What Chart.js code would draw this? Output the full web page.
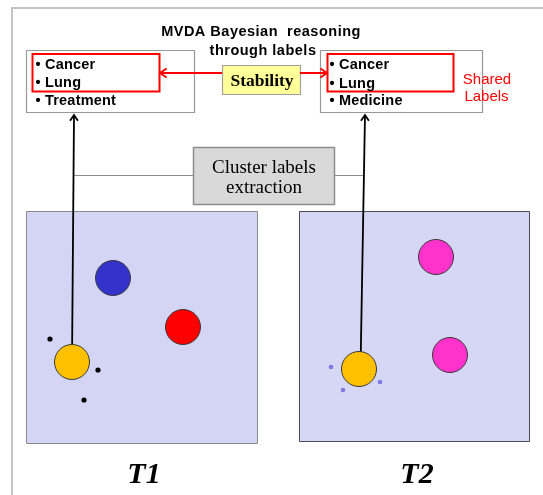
<!DOCTYPE html>
<html><head><meta charset="utf-8">
<script src="https://cdn.jsdelivr.net/npm/chart.js@4"></script>
<style>html,body{margin:0;padding:0;background:#fff;overflow:hidden}canvas{display:block}</style>
</head><body>
<canvas id="c" width="543" height="495"></canvas>
<script>
// ---- data ----
const titleLines = ['MVDA Bayesian  reasoning', 'through labels'];
const panelNames = ['T1', 'T2'];
const labelsT1 = ['Cancer', 'Lung', 'Treatment'];
const labelsT2 = ['Cancer', 'Lung', 'Medicine'];
const sharedLabelsText = ['Shared', 'Labels'];
const sharedCount = 2;
const stabilityText = 'Stability';
const extractionLines = ['Cluster labels', 'extraction'];
// cluster centres (diagram units)
const t1ClusterX = [113, 183, 72];
const t1ClusterY = [278, 327, 362];
const t2ClusterX = [436, 450, 359];
const t2ClusterY = [257, 355, 369];
// unassigned points
const t1NoiseX = [50, 98, 84];
const t1NoiseY = [339, 370, 400];
const t2NoiseX = [331, 343, 380];
const t2NoiseY = [367, 390, 382];

// ---- styles ----
const t1Colors = ['#3333cc', '#ff0000', '#ffc000'];
const t2Colors = ['#ff33cc', '#ff33cc', '#ffc000'];
const BIG_R = 17.5;

const toPts = (xs, ys, r) => xs.map((x, i) => ({x: x, y: ys[i], r: r}));

const diagram = {
  id: 'diagram',
  beforeDatasetsDraw(chart) {
    const ctx = chart.ctx;
    const X = v => chart.scales.x.getPixelForValue(v);
    const Y = v => chart.scales.y.getPixelForValue(v);
    ctx.save();
    function rect(x0, y0, x1, y1, fill, stroke, lw) {
      ctx.beginPath();
      ctx.rect(X(x0) + 0.5, Y(y0) + 0.5, X(x1) - X(x0), Y(y1) - Y(y0));
      if (fill) { ctx.fillStyle = fill; ctx.fill(); }
      if (stroke) { ctx.lineWidth = lw || 1; ctx.strokeStyle = stroke; ctx.stroke(); }
    }
    function line(x0, y0, x1, y1, color, lw) {
      ctx.beginPath();
      ctx.moveTo(X(x0), Y(y0)); ctx.lineTo(X(x1), Y(y1));
      ctx.strokeStyle = color; ctx.lineWidth = lw; ctx.stroke();
    }
    function head(tx, ty, fx, fy, size, color, lw) {
      const a = Math.atan2(Y(ty) - Y(fy), X(tx) - X(fx));
      const px = X(tx), py = Y(ty);
      ctx.beginPath();
      ctx.moveTo(px - size * Math.cos(a - 0.6), py - size * Math.sin(a - 0.6));
      ctx.lineTo(px, py);
      ctx.lineTo(px - size * Math.cos(a + 0.6), py - size * Math.sin(a + 0.6));
      ctx.strokeStyle = color; ctx.lineWidth = lw; ctx.lineJoin = 'miter'; ctx.stroke();
    }
    function text(t, x, y, font, color, align, spacing) {
      ctx.font = font; ctx.fillStyle = color; ctx.textAlign = align || 'center';
      ctx.textBaseline = 'alphabetic';
      ctx.letterSpacing = (spacing || 0) + 'px';
      ctx.fillText(t, X(x), Y(y));
      ctx.letterSpacing = '0px';
    }
    // outer frame
    ctx.beginPath();
    ctx.moveTo(X(12), Y(495)); ctx.lineTo(X(12), Y(8)); ctx.lineTo(X(543), Y(8));
    ctx.strokeStyle = '#c4c4c4'; ctx.lineWidth = 2; ctx.stroke();

    // panels
    rect(26, 211, 257, 443, '#d4d4f4', '#8a8a8a', 1);
    rect(299, 211, 529, 441, '#d6d6f5', '#4a4a5a', 1);

    // connector line
    line(73, 175.5, 363, 175.5, '#8c8c8c', 1.2);
    // extraction box
    rect(193, 147, 334, 204, '#d9d9d9', '#8c8c8c', 1.5);

    // label boxes
    rect(26, 50, 194, 112, '#ffffff', '#999999', 1.2);
    rect(320, 50, 482, 112, '#ffffff', '#999999', 1.2);
    rect(32, 53.5, 159, 91, null, '#ff0000', 2);
    rect(327, 53.5, 453, 91, null, '#ff0000', 2);

    // stability box + arrows
    rect(222, 65, 300, 94, '#ffff99', '#a0a0a0', 1.2);
    line(222, 73, 161, 73, '#ff0000', 2);
    head(160, 73, 222, 73, 8, '#ff0000', 2);
    line(300, 73, 326, 73, '#ff0000', 2);
    head(327, 73, 300, 73, 8, '#ff0000', 2);

    // texts
    const sans = '"Liberation Sans", Arial, sans-serif';
    const serif = '"Liberation Serif", "Times New Roman", serif';
    text(titleLines[0], 261, 36, 'bold 14.5px ' + sans, '#000', 'center', 0.5);
    text(titleLines[1], 263, 55, 'bold 14.5px ' + sans, '#000', 'center', 0.5);
    const rowsY = [68.5, 87, 104.5];
    labelsT1.forEach((l, i) => text('\u2022 ' + l, 35.5, rowsY[i], 'bold 14.5px ' + sans, '#000', 'left', 0.2));
    labelsT2.forEach((l, i) => text('\u2022 ' + l, 329.5, rowsY[i] + 0.5, 'bold 14.5px ' + sans, '#000', 'left', 0.2));
    text(sharedLabelsText[0], 487, 84, '15px ' + sans, '#ff0000');
    text(sharedLabelsText[1], 486.5, 101, '15px ' + sans, '#ff0000');
    text(stabilityText, 262, 86, 'bold 17.5px ' + serif, '#000');
    text(extractionLines[0], 264, 172.5, '19px ' + serif, '#000');
    text(extractionLines[1], 264, 192.5, '19px ' + serif, '#000');
    text(panelNames[0], 144, 483, 'italic bold 30px ' + serif, '#000');
    text(panelNames[1], 417, 483, 'italic bold 30px ' + serif, '#000');

    // arrows from shared cluster to its labels
    const s1x = t1ClusterX[2], s1y = t1ClusterY[2];
    const s2x = t2ClusterX[2], s2y = t2ClusterY[2];
    line(s1x, s1y, 74, 115, '#000', 1.8);
    head(74, 115, s1x, s1y, 7, '#000', 1.8);
    line(s2x + 1.5, s2y, 365, 115, '#000', 1.8);
    head(365, 115, s2x + 1.5, s2y, 7, '#000', 1.8);
    ctx.restore();
  }
};

new Chart(document.getElementById('c'), {
  type: 'bubble',
  data: {
    datasets: [
      { data: toPts(t1NoiseX, t1NoiseY, 2.6), backgroundColor: '#000', borderWidth: 0 },
      { data: toPts(t2NoiseX, t2NoiseY, 2.3), backgroundColor: '#7b7be3', borderWidth: 0 },
      { data: toPts(t1ClusterX, t1ClusterY, BIG_R), backgroundColor: t1Colors, borderColor: '#3a3a3a', borderWidth: 1 },
      { data: toPts(t2ClusterX, t2ClusterY, BIG_R), backgroundColor: t2Colors, borderColor: '#3a3a3a', borderWidth: 1 }
    ]
  },
  options: {
    responsive: false,
    animation: false,
    events: [],
    layout: { padding: 0, autoPadding: false },
    plugins: { legend: { display: false }, tooltip: { enabled: false } },
    scales: {
      x: { type: 'linear', min: 0, max: 543, display: false },
      y: { type: 'linear', min: 0, max: 495, reverse: true, display: false }
    }
  },
  plugins: [diagram]
});
</script>
</body></html>
